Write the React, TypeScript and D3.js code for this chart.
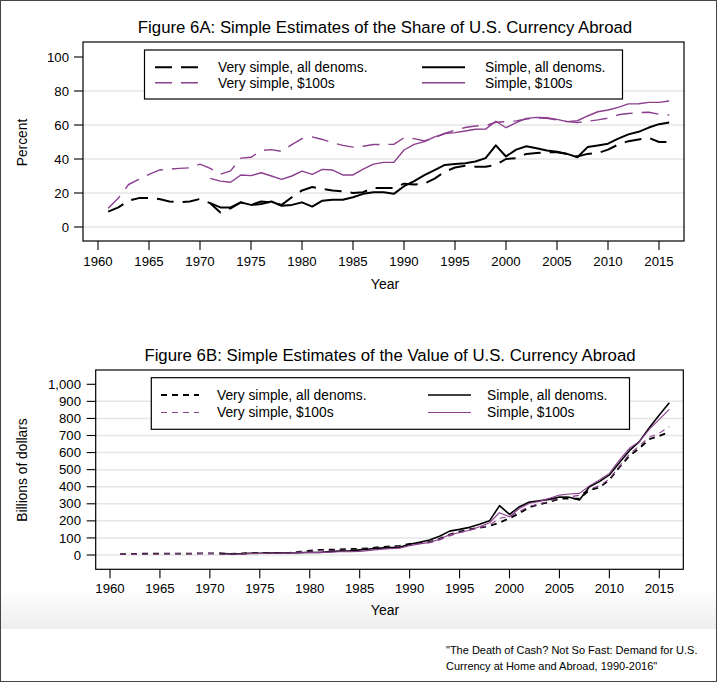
import React from 'react';
import * as d3 from 'd3';

// x categories
const yearsVerySimple = d3.range(1961, 2017);
const yearsSimple = d3.range(1971, 2017);
const yearTicks = [1960, 1965, 1970, 1975, 1980, 1985, 1990, 1995, 2000, 2005, 2010, 2015];

// Figure 6A: share abroad (percent)
const shareVerySimpleAll = [
  9, 11.5, 15.5, 17, 17, 16.5, 15, 14.5, 15, 16.5,
  14, 8.5, 11, 14.5, 13, 15, 14.5, 13, 17.5, 21.5,
  23.5, 22.5, 21.5, 21, 20, 20.5, 23, 23, 23, 25.5,
  25, 25.5, 28.5, 32.5, 35, 36, 35.5, 35.5, 36.5, 40,
  40.5, 43, 43.5, 44, 44, 43, 41.5, 43, 43.5, 45.5,
  48.5, 50.5, 51.5, 52.5, 50, 50,
];
const shareVerySimple100 = [
  11, 17, 25, 28, 31, 33.5, 34, 34.5, 34.8, 37,
  34.5, 31, 33, 40.5, 41, 45, 45.5, 44.5, 48.5, 52,
  53, 51.5, 49.5, 48, 47, 47.5, 48.5, 48.6, 48.6, 52.5,
  52, 50.6, 52.5, 55, 57, 58.5, 59.4, 59.6, 61.6, 62,
  62.4, 63.5, 64.2, 64, 63, 62, 61.4, 62.2, 63, 64,
  66, 66.8, 67.3, 67.5, 66.3, 65.9,
];
const shareSimpleAll = [
  14, 11.5, 11.5, 14.5, 13, 13.5, 15, 12.5, 13, 14.5,
  12, 15.5, 16, 16, 17.5, 19.5, 20.5, 20.5, 19.5, 24,
  27, 30.5, 33.5, 36.5, 37, 37.5, 38.5, 40.5, 48, 41.5,
  45.5, 47.5, 46.3, 45, 44.3, 43, 41, 47, 48, 49,
  52, 54.5, 56, 58.5, 60.5, 61.5,
];
const shareSimple100 = [
  28.6, 27, 26.3, 30.6, 30.2, 31.9, 30, 28, 30, 32.9,
  31, 33.9, 33.5, 30.6, 30.6, 34, 37, 38, 38, 45.3,
  48.6, 50.2, 53, 55, 55.5, 56.5, 57.5, 57.6, 62.2, 58.4,
  61.4, 63.9, 64.5, 64.3, 63.3, 62, 62.5, 65.3, 67.8, 68.8,
  70.4, 72.4, 72.5, 73.3, 73.3, 74.1,
];

// Figure 6B: value abroad (billions of dollars)
const valueVerySimpleAll = [
  5, 6, 7, 8, 8, 8, 8, 8, 9, 10,
  9, 6, 8, 11, 10, 13, 13, 13, 19, 25,
  30, 31, 33, 35, 37, 39, 46, 50, 53, 65,
  70, 76, 95, 120, 137, 150, 160, 170, 190, 215,
  245, 280, 297, 310, 330, 330, 330, 380, 395, 440,
  514, 580, 625, 678, 697, 722,
];
const valueVerySimple100 = [
  4, 5, 5, 6, 6, 7, 7, 7, 8, 8,
  8, 7, 8, 10, 11, 13, 14, 15, 18, 22,
  25, 26, 28, 30, 33, 36, 42, 46, 50, 62,
  67, 72, 88, 112, 130, 145, 160, 175, 215, 225,
  255, 285, 300, 315, 335, 340, 350, 385, 405, 445,
  520, 590, 640, 690, 713, 752,
];
const valueSimpleAll = [
  8, 7, 7, 10, 10, 11, 13, 12, 13, 16,
  15, 20, 23, 25, 30, 35, 40, 43, 45, 63,
  75, 88, 110, 140, 150, 162, 180, 200, 289, 238,
  283, 310, 318, 326, 340, 338, 322, 400, 430, 469,
  541, 611, 664, 746, 820, 892,
];
const valueSimple100 = [
  6, 6, 6, 8, 9, 10, 11, 11, 13, 15,
  15, 17, 19, 19, 21, 27, 33, 37, 40, 55,
  65, 74, 92, 118, 132, 145, 165, 189, 248, 224,
  273, 303, 314, 332, 351, 357, 361, 405, 439, 478,
  556, 625, 664, 736, 795, 853,
];

const percentTicks = [0, 20, 40, 60, 80, 100];
const billionTicks = [0, 100, 200, 300, 400, 500, 600, 700, 800, 900, 1000];
const legendLabels = ['Very simple, all denoms.', 'Very simple, $100s', 'Simple, all denoms.', 'Simple, $100s'];
const captionLines = ['"The Death of Cash? Not So Fast: Demand for U.S.', 'Currency at Home and Abroad, 1990-2016"'];

const PURPLE = '#8b3f8e';
const FONT = '"Liberation Sans", Arial, Helvetica, sans-serif';

interface Series { years: number[]; values: number[]; color: string; width: number; dash?: string }

interface PanelProps {
  title: string;
  titleX: number;
  titleY: number;
  frame: { left: number; right: number; top: number; bottom: number };
  xRange: [number, number];
  yDomain: [number, number];
  yRange: [number, number];
  yTicks: number[];
  yFormat: (v: number) => string;
  yLabelRight: number;
  yTitle: string;
  yTitleY: number;
  xLabelY: number;
  xTitleX: number;
  xTitleY: number;
  series: Series[];
  legend: { left: number; right: number; top: number; bottom: number; rows: [number, number]; col1: [number, number, number]; col2: [number, number, number] };
}

const Panel: React.FC<PanelProps> = (p) => {
  const x = d3.scaleLinear().domain([1960, 2015]).range(p.xRange);
  const y = d3.scaleLinear().domain(p.yDomain).range(p.yRange);
  const { left, right, top, bottom } = p.frame;
  const line = d3
    .line<[number, number]>()
    .x((d) => x(d[0]))
    .y((d) => y(d[1]));
  const lg = p.legend;
  return (
    <g fontFamily={FONT}>
      <text x={p.titleX} y={p.titleY} textAnchor="middle" fontSize={16.8} fill="#000">
        {p.title}
      </text>
      {p.yTicks.slice(0, -1).map((t) => (
        <line key={'g' + t} x1={left} x2={right} y1={y(t)} y2={y(t)} stroke="#e6e6e6" strokeWidth={1.5} />
      ))}
      {p.series.map((s, i) => (
        <path
          key={'s' + i}
          d={line(s.years.map((yr, k) => [yr, s.values[k]] as [number, number])) || ''}
          fill="none"
          stroke={s.color}
          strokeWidth={s.width}
          strokeDasharray={s.dash}
          strokeLinejoin="round"
        />
      ))}
      <rect x={left} y={top} width={right - left} height={bottom - top} fill="none" stroke="#000" strokeWidth={1.2} />
      {p.yTicks.map((t) => (
        <g key={'y' + t}>
          <line x1={left - 9} x2={left} y1={y(t)} y2={y(t)} stroke="#000" strokeWidth={1.1} />
          <text x={p.yLabelRight} y={y(t)} dy="0.35em" textAnchor="end" fontSize={13.2}>
            {p.yFormat(t)}
          </text>
        </g>
      ))}
      {yearTicks.map((t) => (
        <g key={'x' + t}>
          <line x1={x(t)} x2={x(t)} y1={bottom} y2={bottom + 9} stroke="#000" strokeWidth={1.1} />
          <text x={x(t)} y={p.xLabelY} textAnchor="middle" fontSize={13.2}>
            {t}
          </text>
        </g>
      ))}
      <text x={p.xTitleX} y={p.xTitleY} textAnchor="middle" fontSize={14}>
        Year
      </text>
      <text transform={`translate(22,${p.yTitleY}) rotate(-90)`} textAnchor="middle" dy="0.35em" fontSize={13.8}>
        {p.yTitle}
      </text>
      <rect x={lg.left} y={lg.top} width={lg.right - lg.left} height={lg.bottom - lg.top} fill="#fff" stroke="#000" strokeWidth={1.2} />
      {p.series.map((s, i) => {
        const col = i < 2 ? lg.col1 : lg.col2;
        const row = lg.rows[i % 2];
        return (
          <g key={'l' + i}>
            <line x1={col[0]} x2={col[1]} y1={row} y2={row} stroke={s.color} strokeWidth={s.width} strokeDasharray={s.dash} />
            <text x={col[2]} y={row} dy="0.35em" fontSize={13.8}>
              {legendLabels[i]}
            </text>
          </g>
        );
      })}
    </g>
  );
};

const App: React.FC = () => {
  const fmtComma = d3.format(',');
  return (
    <svg width={717} height={682} style={{ position: 'absolute', left: 0, top: 0, background: '#fff' }}>
      <defs>
        <linearGradient id="fade" x1="0" y1="0" x2="0" y2="1">
          <stop offset="0" stopColor="#ffffff" />
          <stop offset="1" stopColor="#eeeeee" />
        </linearGradient>
      </defs>
      <rect x={0} y={0} width={717} height={682} fill="#fff" />
      <rect x={1} y={588} width={715} height={41} fill="url(#fade)" />
      <Panel
        title="Figure 6A: Simple Estimates of the Share of U.S. Currency Abroad"
        titleX={385}
        titleY={33}
        frame={{ left: 83, right: 684, top: 42, bottom: 241 }}
        xRange={[98, 659]}
        yDomain={[0, 100]}
        yRange={[227, 57]}
        yTicks={percentTicks}
        yFormat={(v) => String(v)}
        yLabelRight={69}
        yTitle="Percent"
        yTitleY={142.5}
        xLabelY={265.5}
        xTitleX={385}
        xTitleY={289}
        series={[
          { years: yearsVerySimple, values: shareVerySimpleAll, color: '#000', width: 2, dash: '17,9' },
          { years: yearsVerySimple, values: shareVerySimple100, color: PURPLE, width: 1.4, dash: '17,9' },
          { years: yearsSimple, values: shareSimpleAll, color: '#000', width: 2 },
          { years: yearsSimple, values: shareSimple100, color: PURPLE, width: 1.4 },
        ]}
        legend={{ left: 144.5, right: 622.5, top: 50, bottom: 99, rows: [67.3, 82.7], col1: [155, 199, 218], col2: [422, 465, 485] }}
      />
      <Panel
        title="Figure 6B: Simple Estimates of the Value of U.S. Currency Abroad"
        titleX={390}
        titleY={361}
        frame={{ left: 95.7, right: 683.3, top: 370, bottom: 569.3 }}
        xRange={[110, 659.3]}
        yDomain={[0, 1000]}
        yRange={[555, 384.3]}
        yTicks={billionTicks}
        yFormat={(v) => fmtComma(v)}
        yLabelRight={81}
        yTitle="Billions of dollars"
        yTitleY={470}
        xLabelY={592.5}
        xTitleX={385}
        xTitleY={615}
        series={[
          { years: yearsVerySimple, values: valueVerySimpleAll, color: '#000', width: 1.8, dash: '6,5' },
          { years: yearsVerySimple, values: valueVerySimple100, color: PURPLE, width: 1.1, dash: '6,5' },
          { years: yearsSimple, values: valueSimpleAll, color: '#000', width: 1.6 },
          { years: yearsSimple, values: valueSimple100, color: PURPLE, width: 1.1 },
        ]}
        legend={{ left: 151.3, right: 629.5, top: 377.7, bottom: 429.3, rows: [395, 412.5], col1: [161, 199, 217], col2: [428, 471, 487] }}
      />
      {captionLines.map((c, i) => (
        <text key={c} x={446} y={654 + i * 15.5} fontFamily={FONT} fontSize={11}>
          {c}
        </text>
      ))}
      <rect x={0.5} y={0.5} width={716} height={681} fill="none" stroke="#444" strokeWidth={1} />
    </svg>
  );
};

export default App;
